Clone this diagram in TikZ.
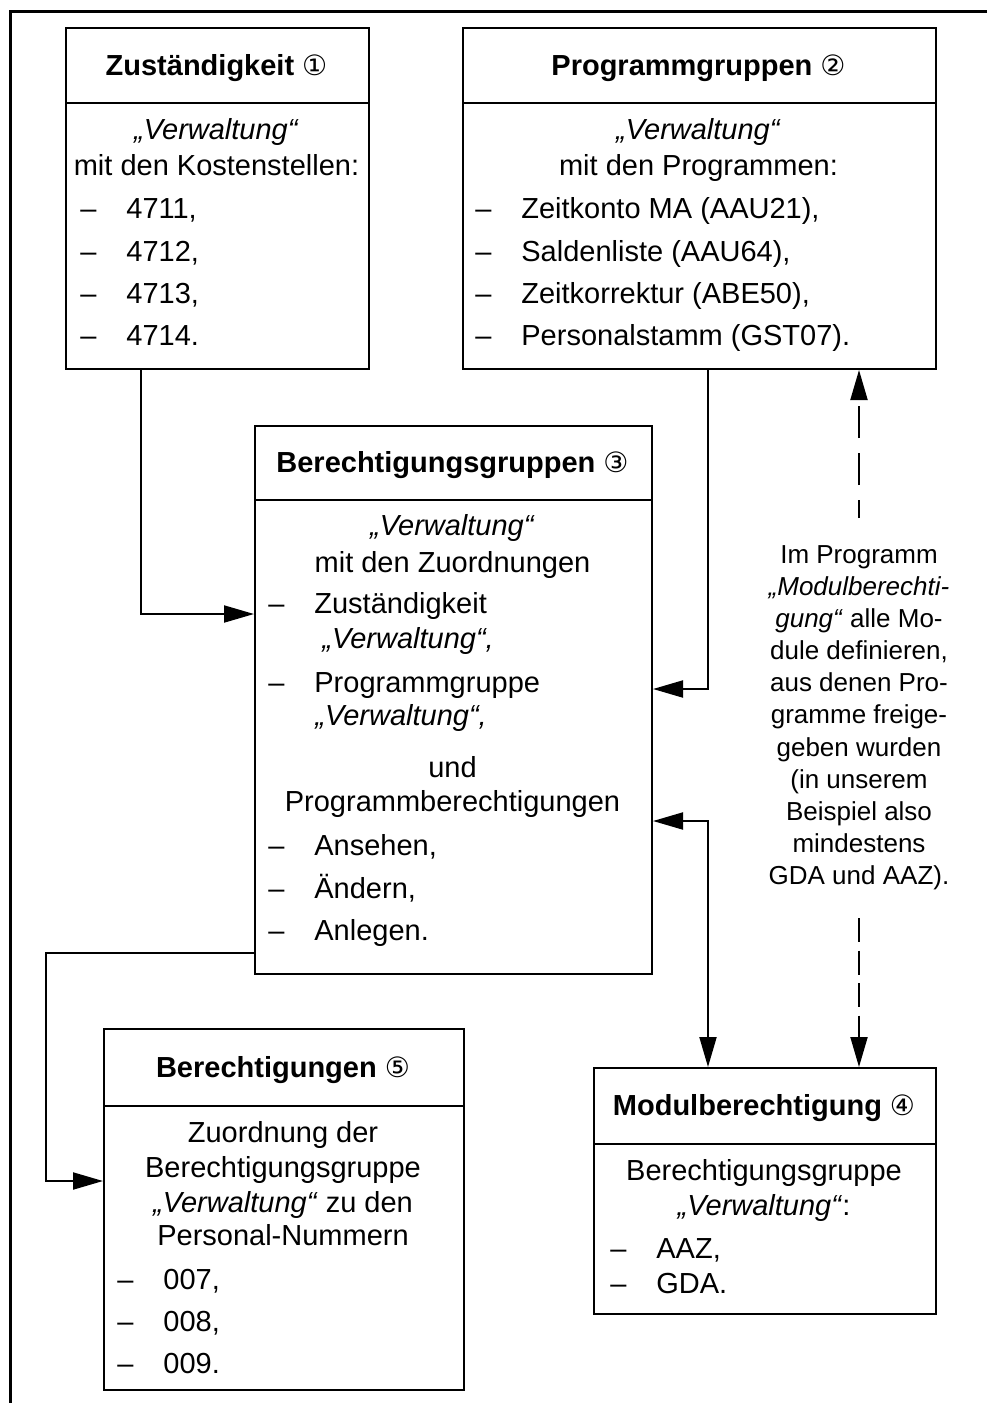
\documentclass[tikz,border=0pt]{standalone}
\usepackage{fontspec}
\setmainfont{Liberation Sans}
\newfontfamily\dvfont{DejaVu Sans}
\usetikzlibrary{arrows.meta}
\newcommand\circnum[1]{{\dvfont\mdseries\fontsize{14}{14}\selectfont #1}}
\newcommand\itm[1]{\makebox[23pt][l]{–}#1}
\begin{document}
\begin{tikzpicture}[x=0.5pt,y=-0.5pt,
  frameline/.style={line width=1.5pt},
  box/.style={draw, line width=1pt, inner sep=0pt, anchor=north west},
  tx/.style={inner sep=0pt, anchor=base, font=\fontsize{14.5}{17}\selectfont},
  li/.style={tx, anchor=base west},
  hd/.style={inner sep=0pt, anchor=base, font=\fontsize{14.5}{17}\selectfont\bfseries},
  lb/.style={inner sep=0pt, anchor=base, font=\fontsize{13}{15}\selectfont},
  tip/.tip={Triangle[length=15pt,width=8.5pt]},
  conn/.style={line width=1pt, -tip},
  conntwo/.style={line width=1pt, tip-tip},
  dashup/.style={line width=1pt, -tip, dash pattern=on 16pt off 7.5pt, dash phase=7pt},
  dashdown/.style={line width=1pt, -tip, dash pattern=on 12pt off 4.25pt}
]
\useasboundingbox (0,0) rectangle (987,1403);
% outer frame
\draw[frameline] (987,11) -- (10,11) -- (10,1403);

% ---- Box 1: Zustaendigkeit
\node[box, minimum width=151.5pt, minimum height=37.5pt] (h1) at (65,27) {};
\node[box, minimum width=151.5pt, minimum height=133pt] (b1) at (65,102) {};
\node[hd] (t1h) at (216.5,75) {Zuständigkeit \circnum{①}};
\node[tx] (t1a) at (216.5,139) {\textit{„Verwaltung“}};
\node[tx] (t1b) at (216.5,175) {mit den Kostenstellen:};
\node[li] (t1c) at (80,218) {\itm{4711,}};
\node[li] (t1d) at (80,261) {\itm{4712,}};
\node[li] (t1e) at (80,303) {\itm{4713,}};
\node[li] (t1f) at (80,345) {\itm{4714.}};

% ---- Box 2: Programmgruppen
\node[box, minimum width=236.5pt, minimum height=37.5pt] (h2) at (462,27) {};
\node[box, minimum width=236.5pt, minimum height=133pt] (b2) at (462,102) {};
\node[hd] (t2h) at (698.5,75) {Programmgruppen \circnum{②}};
\node[tx] (t2a) at (698.5,139) {\textit{„Verwaltung“}};
\node[tx] (t2b) at (698.5,175) {mit den Programmen:};
\node[li] (t2c) at (475,218) {\itm{Zeitkonto MA (AAU21),}};
\node[li] (t2d) at (475,261) {\itm{Saldenliste (AAU64),}};
\node[li] (t2e) at (475,303) {\itm{Zeitkorrektur (ABE50),}};
\node[li] (t2f) at (475,345) {\itm{Personalstamm (GST07).}};

% ---- Box 3: Berechtigungsgruppen
\node[box, minimum width=198.5pt, minimum height=37pt] (h3) at (254,425) {};
\node[box, minimum width=198.5pt, minimum height=237pt] (b3) at (254,499) {};
\node[hd] (t3h) at (452.5,472) {Berechtigungsgruppen \circnum{③}};
\node[tx] (t3a) at (452.5,535) {\textit{„Verwaltung“}};
\node[tx] (t3b) at (452.5,572) {mit den Zuordnungen};
\node[li] (t3c) at (268,613) {\itm{Zuständigkeit}};
\node[li] (t3d) at (322,648) {\textit{„Verwaltung“,}};
\node[li] (t3e) at (268,692) {\itm{Programmgruppe}};
\node[li] (t3f) at (315,725) {\textit{„Verwaltung“,}};
\node[tx] (t3g) at (452.5,777) {und};
\node[tx] (t3i) at (452.5,811) {Programmberechtigungen};
\node[li] (t3j) at (268,855) {\itm{Ansehen,}};
\node[li] (t3k) at (268,898) {\itm{Ändern,}};
\node[li] (t3l) at (268,940) {\itm{Anlegen.}};

% ---- Box 4: Modulberechtigung
\node[box, minimum width=171pt, minimum height=38pt] (h4) at (593,1067) {};
\node[box, minimum width=171pt, minimum height=85pt] (b4) at (593,1143) {};
\node[hd] (t4h) at (764,1115) {Modulberechtigung \circnum{④}};
\node[tx] (t4a) at (764,1180) {Berechtigungsgruppe};
\node[tx] (t4b) at (764,1215) {\textit{„Verwaltung“}:};
\node[li] (t4c) at (610,1258) {\itm{AAZ,}};
\node[li] (t4d) at (610,1293) {\itm{GDA.}};

% ---- Box 5: Berechtigungen
\node[box, minimum width=180pt, minimum height=38.5pt] (h5) at (103,1028) {};
\node[box, minimum width=180pt, minimum height=142pt] (b5) at (103,1105) {};
\node[hd] (t5h) at (283,1077) {Berechtigungen \circnum{⑤}};
\node[tx] (t5a) at (283,1142) {Zuordnung der};
\node[tx] (t5b) at (283,1177) {Berechtigungsgruppe};
\node[tx] (t5c) at (283,1212) {\textit{„Verwaltung“} zu den};
\node[tx] (t5d) at (283,1245) {Personal-Nummern};
\node[li] (t5e) at (117,1289) {\itm{007,}};
\node[li] (t5f) at (117,1331) {\itm{008,}};
\node[li] (t5g) at (117,1373) {\itm{009.}};

% ---- label
\node[lb] (l1) at (859,563) {Im Programm};
\node[lb] (l2) at (859,595) {\textit{„Modulberechti-}};
\node[lb] (l3) at (859,627) {\textit{gung“} alle Mo-};
\node[lb] (l4) at (859,659) {dule definieren,};
\node[lb] (l5) at (859,691) {aus denen Pro-};
\node[lb] (l6) at (859,723) {gramme freige-};
\node[lb] (l7) at (859,756) {geben wurden};
\node[lb] (l8) at (859,788) {(in unserem};
\node[lb] (l9) at (859,820) {Beispiel also};
\node[lb] (l10) at (859,852) {mindestens};
\node[lb] (l11) at (859,884) {GDA und AAZ).};

% ---- connectors
\coordinate (k1) at (141,614);
\draw[conn] (b1.south -| k1) |- (b3.west |- k1);
\coordinate (k2) at (708,689);
\draw[conn] (b2.south -| k2) |- (b3.east |- k2);
\coordinate (k3) at (708,821);
\draw[conntwo] (b3.east |- k3) -| (h4.north -| k3);
\coordinate (k4) at (46,953);
\coordinate (k5) at (46,1181);
\draw[conn] (b3.west |- k4) -- (k4) -- (k5) -- (b5.west |- k5);
\coordinate (d1) at (859,518);
\draw[dashup] (d1) -- (b2.south -| d1);
\coordinate (d2) at (859,918);
\draw[dashdown] (d2) -- (h4.north -| d2);
\end{tikzpicture}
\end{document}
